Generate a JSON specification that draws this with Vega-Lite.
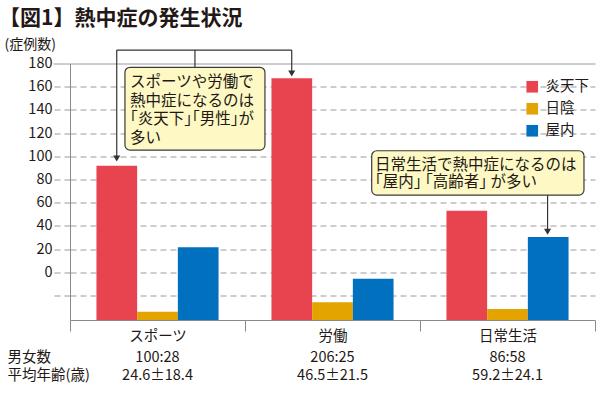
{
  "$schema": "https://vega.github.io/schema/vega-lite/v6.json",
  "width": 525,
  "height": 256.5,
  "autosize": {"type": "none"},
  "padding": {"left": 70, "top": 63.5, "right": 5, "bottom": 73},
  "background": "white",
  "config": {
    "font": "Noto Sans CJK JP",
    "view": {"stroke": null},
    "axis": {"labelColor": "#231815", "titleColor": "#231815", "labelFont": "Noto Sans CJK JP", "titleFont": "Noto Sans CJK JP"},
    "legend": {"labelFont": "Noto Sans CJK JP", "labelColor": "#231815"},
    "text": {"font": "Noto Sans CJK JP", "color": "#231815"}
  },
  "title": {
    "text": "【図1】熱中症の発生状況",
    "anchor": "start",
    "frame": "group",
    "dx": -71,
    "dy": 2,
    "fontSize": 21,
    "fontWeight": "bold",
    "color": "#231815",
    "font": "Noto Sans CJK JP",
    "baseline": "middle",
    "offset": 0
  },
  "datasets": {
    "bars": [
      {"cat": "スポーツ", "s": "炎天下", "v": 91.9},
      {"cat": "スポーツ", "s": "日陰", "v": -34.0},
      {"cat": "スポーツ", "s": "屋内", "v": 21.6},
      {"cat": "労働", "s": "炎天下", "v": 167.2},
      {"cat": "労働", "s": "日陰", "v": -25.9},
      {"cat": "労働", "s": "屋内", "v": -5.5},
      {"cat": "日常生活", "s": "炎天下", "v": 53.1},
      {"cat": "日常生活", "s": "日陰", "v": -31.6},
      {"cat": "日常生活", "s": "屋内", "v": 30.4}
    ],
    "stats": [
      {"cat": "スポーツ", "mf": "100:28", "age": "24.6±18.4"},
      {"cat": "労働", "mf": "206:25", "age": "46.5±21.5"},
      {"cat": "日常生活", "mf": "86:58", "age": "59.2±24.1"}
    ],
    "boxes": [
      {"x": 0.314, "x2": 1.114, "y": 176.7, "y2": 105.4},
      {"x": 1.724, "x2": 2.937, "y": 104.8, "y2": 66.6}
    ],
    "lines": [
      {"x": 0.714, "x2": 0.714, "y": 176.7, "y2": 191.6},
      {"x": 0.267, "x2": 1.267, "y": 191.6, "y2": 191.6},
      {"x": 0.267, "x2": 0.267, "y": 191.6, "y2": 99},
      {"x": 1.267, "x2": 1.267, "y": 191.6, "y2": 172},
      {"x": 2.729, "x2": 2.729, "y": 66.6, "y2": 36}
    ],
    "heads": [
      {"x": 0.267, "y": 98.1},
      {"x": 1.267, "y": 171.4},
      {"x": 2.729, "y": 35}
    ],
    "notes": [
      {"x": 0.343, "y": 164.1, "t": "スポーツや労働で"},
      {"x": 0.343, "y": 148.1, "t": "熱中症になるのは"},
      {"x": 0.343, "y": 132.2, "t": "｢炎天下｣｢男性｣が"},
      {"x": 0.343, "y": 116.2, "t": "多い"},
      {"x": 1.743, "y": 92.5, "t": "日常生活で熱中症になるのは"},
      {"x": 1.743, "y": 78.1, "t": "｢屋内｣ ｢高齢者｣ が多い"}
    ]
  },
  "layer": [
    {
      "data": {"name": "bars"},
      "mark": {"type": "bar"},
      "encoding": {
        "x": {
          "field": "cat", "type": "nominal",
          "scale": {"domain": ["スポーツ", "労働", "日常生活"], "paddingInner": 0, "paddingOuter": 0},
          "axis": {
            "title": ["男女数", "平均年齢(歳)"],
            "titleFontSize": 14.5, "titleFontWeight": "normal",
            "titleAlign": "left", "titleAnchor": "start", "titleBaseline": "top",
            "titleX": -63, "titleY": 30.5, "titleLineHeight": 18.3, "titleAngle": 0,
            "labelAngle": 0, "labelFontSize": 14.5, "labelBaseline": "top", "labelPadding": -2,
            "tickBand": "extent", "tickSize": 11, "tickColor": "#8a8a8a",
            "domainColor": "#8a8a8a", "grid": false
          }
        },
        "xOffset": {
          "field": "s", "type": "nominal",
          "scale": {"domain": ["炎天下", "日陰", "屋内"], "paddingInner": 0, "paddingOuter": 0.65}
        },
        "y": {
          "field": "v", "type": "quantitative",
          "scale": {"domain": [-41.1, 180], "nice": false, "zero": false},
          "axis": {
            "title": "(症例数)", "titleAngle": 0, "titleAlign": "left", "titleBaseline": "middle",
            "titleX": -66, "titleY": -19, "titleFontSize": 14, "titleFontWeight": "normal",
            "values": [-20, 0, 20, 40, 60, 80, 100, 120, 140, 160, 180],
            "tickCount": 20,
            "labelOverlap": false,
            "labelExpr": "datum.value < 0 ? '' : datum.label",
            "labelFontSize": 14.5, "labelPadding": 1,
            "tickSize": 17, "tickColor": "#9a9a9a",
            "tickDash": {"condition": {"test": "datum.value === 180", "value": []}, "value": [6, 4]},
            "grid": true, "gridColor": "#9a9a9a",
            "gridDash": {"condition": {"test": "datum.value === 180", "value": []}, "value": [6, 4]},
            "domainColor": "#8a8a8a"
          }
        },
        "y2": {"datum": -41.1},
        "color": {
          "field": "s", "type": "nominal",
          "scale": {"domain": ["炎天下", "日陰", "屋内"], "range": ["#e8444f", "#e3a400", "#0070bf"]},
          "legend": {
            "orient": "none", "legendX": 455, "legendY": 16, "title": null,
            "symbolType": "square", "symbolSize": 135, "symbolStrokeWidth": 0,
            "labelFontSize": 14.5, "rowPadding": 7, "labelOffset": 6
          }
        }
      }
    },
    {
      "data": {"name": "stats"},
      "mark": {"type": "text", "fontSize": 14.5, "baseline": "middle", "align": "center"},
      "encoding": {
        "x": {"field": "cat", "type": "nominal", "scale": {"domain": ["スポーツ", "労働", "日常生活"], "paddingInner": 0, "paddingOuter": 0}, "axis": null},
        "y": {"datum": -73.6, "type": "quantitative"},
        "text": {"field": "mf"}
      }
    },
    {
      "data": {"name": "stats"},
      "mark": {"type": "text", "fontSize": 14.5, "baseline": "middle", "align": "center"},
      "encoding": {
        "x": {"field": "cat", "type": "nominal", "scale": {"domain": ["スポーツ", "労働", "日常生活"], "paddingInner": 0, "paddingOuter": 0}, "axis": null},
        "y": {"datum": -89.4, "type": "quantitative"},
        "text": {"field": "age"}
      }
    },
    {
      "data": {"name": "lines"},
      "mark": {"type": "rule", "color": "#333333", "strokeWidth": 1.2},
      "encoding": {
        "x": {"field": "x", "type": "quantitative", "scale": {"domain": [0, 3], "nice": false, "zero": false}, "axis": null},
        "x2": {"field": "x2"},
        "y": {"field": "y", "type": "quantitative"},
        "y2": {"field": "y2"}
      }
    },
    {
      "data": {"name": "boxes"},
      "mark": {"type": "rect", "fill": "#fdf8c4", "stroke": "#3a3a3a", "strokeWidth": 1.2, "cornerRadius": 5},
      "encoding": {
        "x": {"field": "x", "type": "quantitative", "scale": {"domain": [0, 3], "nice": false, "zero": false}, "axis": null},
        "x2": {"field": "x2"},
        "y": {"field": "y", "type": "quantitative"},
        "y2": {"field": "y2"}
      }
    },
    {
      "data": {"name": "heads"},
      "mark": {"type": "point", "shape": "triangle-down", "filled": true, "color": "#333333", "size": 50, "opacity": 1},
      "encoding": {
        "x": {"field": "x", "type": "quantitative", "scale": {"domain": [0, 3], "nice": false, "zero": false}, "axis": null},
        "y": {"field": "y", "type": "quantitative"}
      }
    },
    {
      "data": {"name": "notes"},
      "mark": {"type": "text", "fontSize": 15.5, "align": "left", "baseline": "middle"},
      "encoding": {
        "x": {"field": "x", "type": "quantitative", "scale": {"domain": [0, 3], "nice": false, "zero": false}, "axis": null},
        "y": {"field": "y", "type": "quantitative"},
        "text": {"field": "t"}
      }
    }
  ],
  "resolve": {"scale": {"x": "independent"}}
}
